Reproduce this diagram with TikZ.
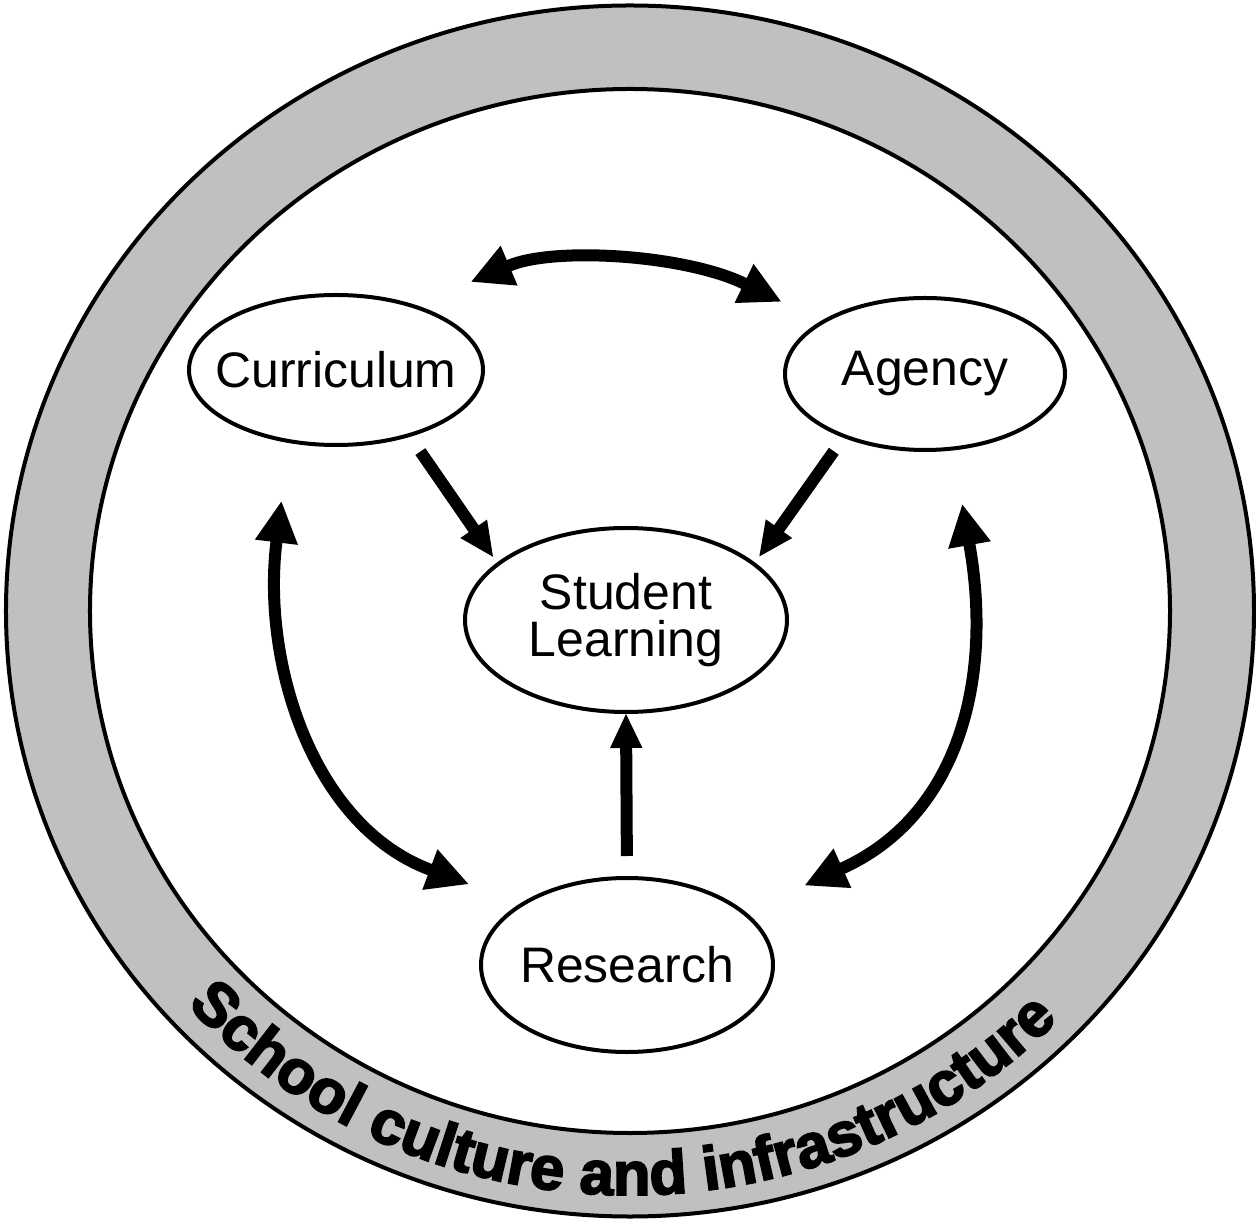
\documentclass[tikz,border=0pt]{standalone}
\usepackage{fontspec}
\setmainfont{Liberation Sans}
\newfontfamily\bandfont{Liberation Sans}[BoldFeatures={FakeBold=3}]
\usetikzlibrary{arrows.meta,shapes.geometric,decorations.text}
\definecolor{bandgray}{HTML}{C0C0C0}
\tikzset{
  ring/.style={draw=black,line width=0.08cm},
  topic/.style={ellipse,draw=black,line width=0.08cm,fill=white,inner xsep=-1cm,inner ysep=0pt,
    align=center,font=\fontsize{28.4}{26.7}\selectfont},
  link/.style={-{Triangle[length=0.68cm,width=0.64cm,line width=1pt]},line width=0.24cm},
  twoway/.style={{Triangle[length=0.82cm,width=0.86cm,line width=1pt]}-{Triangle[length=0.82cm,width=0.86cm,line width=1pt]},
    line width=0.24cm},
}

\begin{document}
\begin{tikzpicture}
  \useasboundingbox (-12.6,-12.18) rectangle (12.52,12.22);
  % outer band
  \draw[ring,fill=bandgray] (0,0) ellipse [x radius=12.48cm,y radius=12.11cm];
  \draw[ring,fill=white] (0,0) ellipse [x radius=10.8cm,y radius=10.44cm];
  \path[decorate,decoration={text along path,text align=center,
      text={|\bandfont\bfseries\fontsize{35}{35}\selectfont|School culture and infrastructure}}]
    (223:12cm and 11.68cm) arc [start angle=223,end angle=315,x radius=12cm,y radius=11.68cm];

  \node[topic,minimum width=5.88cm,minimum height=3cm] (curr) at (-5.88,4.82) {Curriculum};
  \node[topic,minimum width=5.6cm,minimum height=3.04cm] (agency) at (5.9,4.74) {Agency};
  \node[topic,minimum width=6.44cm,minimum height=3.68cm] (student) at (-0.08,-0.18) {Student\\Learning};
  \node[topic,minimum width=5.84cm,minimum height=3.48cm] (research) at (-0.06,-7.08) {Research};

  % into student learning
  \draw[link,shorten <=0.36cm,shorten >=0.14cm] (curr.-42) -- (student.156);
  \draw[link,shorten <=0.33cm,shorten >=0.15cm] (agency.218) -- (student.24);
  \draw[link,shorten <=0.4cm] (research.north) -- (student.south);

  % two-way links round the outside
  \draw[twoway,shorten <=1.2cm,shorten >=0.89cm,looseness=0.95] (curr.39) to[out=23,in=154] (agency.153);
  \draw[twoway,shorten <=1.18cm,shorten >=1.11cm,looseness=1.1] (curr.237) to[out=263,in=159.5] (research.150);
  \draw[twoway,shorten <=1.1cm,shorten >=1.3cm,looseness=1.18] (agency.-70.5) to[out=280,in=24.4] (research.24.7);
\end{tikzpicture}
\end{document}
